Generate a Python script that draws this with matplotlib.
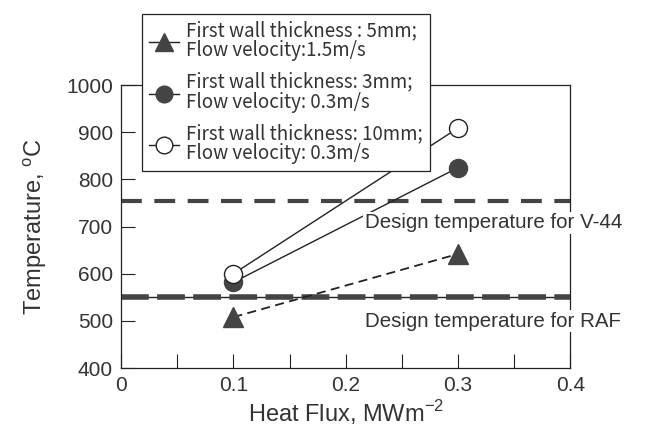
import matplotlib
matplotlib.use('Agg')
import matplotlib.pyplot as plt

# Data
heat_flux = [0.1, 0.3]
temp_5mm = [508, 642]
temp_3mm = [582, 825]
temp_10mm = [600, 909]

v44_design = 755
raf_design = 550

x_ticks = [0, 0.1, 0.2, 0.3, 0.4]
x_tick_labels = ['0', '0.1', '0.2', '0.3', '0.4']
x_minor = [0.05, 0.15, 0.25, 0.35]
y_ticks = [400, 500, 600, 700, 800, 900, 1000]

label_5mm = "First wall thickness : 5mm;\nFlow velocity:1.5m/s"
label_3mm = "First wall thickness: 3mm;\nFlow velocity: 0.3m/s"
label_10mm = "First wall thickness: 10mm;\nFlow velocity: 0.3m/s"

gray = '#333333'
plt.rcParams['font.family'] = ['Liberation Sans', 'DejaVu Sans']
plt.rcParams['text.color'] = gray

fig = plt.figure(figsize=(6.48, 4.3), dpi=100)
ax = fig.add_axes([0.187, 0.144, 0.693, 0.658])

# design temperature lines
ax.axhline(raf_design, color='#222222', lw=1.0, zorder=1)
ax.axhline(raf_design, color='#444444', lw=4, dashes=(5, 1.5), zorder=1)
ax.axhline(v44_design, color='#444444', lw=3, dashes=(5, 3), zorder=1)

ax.plot(heat_flux, temp_5mm, color='#222222', lw=1.3, ls=(0, (5, 3)),
        marker='^', ms=15, mfc='#444444', mec='#444444', zorder=3)
ax.plot(heat_flux, temp_3mm, color='#222222', lw=1.0,
        marker='o', ms=13, mfc='#444444', mec='#444444', zorder=3)
ax.plot(heat_flux, temp_10mm, color='#222222', lw=1.0,
        marker='o', ms=13, mfc='white', mec='#222222', zorder=4)

box = dict(facecolor='white', edgecolor='none', pad=1)
ax.text(0.217, 708, "Design temperature for V-44", fontsize=14.8,
        color=gray, ha='left', va='center', clip_on=False, bbox=box,
        zorder=5)
ax.text(0.217, 499, "Design temperature for RAF", fontsize=14.8,
        color=gray, ha='left', va='center', clip_on=False, bbox=box,
        zorder=5)

ax.set_xlim(0, 0.4)
ax.set_ylim(400, 1000)
ax.set_xticks(x_ticks)
ax.set_xticklabels(x_tick_labels)
ax.set_xticks(x_minor, minor=True)
ax.set_yticks(y_ticks)
ax.tick_params(axis='both', which='major', direction='in', length=10,
               width=0.8, labelsize=15, colors='#222222', labelcolor=gray,
               pad=6)
ax.tick_params(axis='x', which='minor', direction='in', length=10, width=0.8,
               colors='#222222')
for s in ax.spines.values():
    s.set_linewidth(0.9)
    s.set_color('#222222')

ax.set_xlabel("Heat Flux, MWm$^{\\mathregular{-2}}$", fontsize=17, color=gray,
              labelpad=2)
ax.set_ylabel("Temperature, $^{\\mathregular{o}}$C", fontsize=17, color=gray,
              labelpad=12)

# legend built from proxy handles
h1, = ax.plot([], [], color='#222222', lw=1.0, marker='^', ms=13,
              mfc='#444444', mec='#444444')
h2, = ax.plot([], [], color='#222222', lw=1.0, marker='o', ms=12,
              mfc='#444444', mec='#444444')
h3, = ax.plot([], [], color='#222222', lw=1.0, marker='o', ms=12,
              mfc='white', mec='#222222')
leg = fig.legend([h1, h2, h3], [label_5mm, label_3mm, label_10mm],
                 loc='upper left', bbox_to_anchor=(0.205, 0.99),
                 frameon=True, fancybox=False, edgecolor='#222222',
                 framealpha=1, handlelength=1.6, handletextpad=0.4,
                 borderpad=0.35, labelspacing=0.55,
                 prop={'family': ['Noto Sans CJK JP', 'DejaVu Sans'],
                       'size': 13.5})
leg.get_frame().set_linewidth(0.9)
for t in leg.get_texts():
    t.set_color(gray)
    t.set_linespacing(0.95)

fig.savefig('out.png', dpi=100)
